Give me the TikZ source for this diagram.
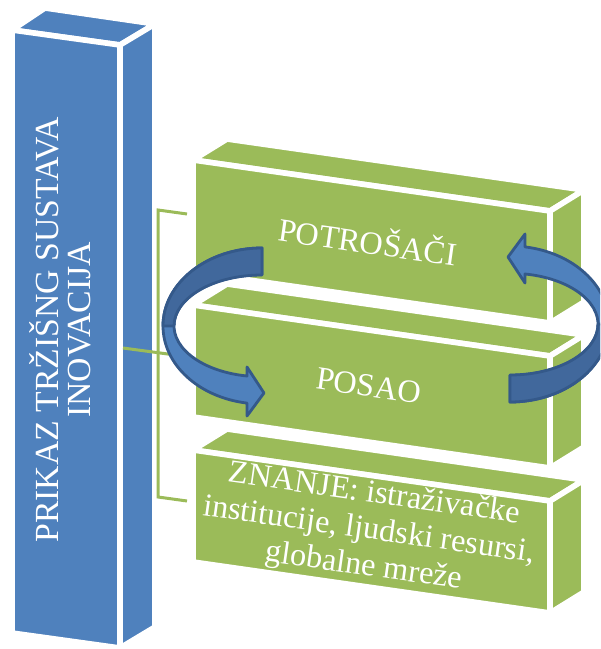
\documentclass[tikz,border=0pt]{standalone}
\usepackage{fontspec}
\setmainfont{Liberation Serif}
\definecolor{colblue}{HTML}{4F81BD}
\definecolor{blockgreen}{HTML}{9BBB59}
\definecolor{arrowdark}{HTML}{41689C}
\definecolor{arrowedge}{HTML}{34598A}

\newcommand{\ringarrow}{%
\filldraw[arrowbody] (262,248) arc[start angle=270,end angle=98.7,x radius=99,y radius=78]
  -- (247,416) -- (264,393) -- (247,367) -- (247,376)
  arc[start angle=99.8,end angle=270,x radius=88,y radius=51] -- cycle;
\filldraw[arrowback] (262,248) arc[start angle=270,end angle=180,x radius=99,y radius=78]
  -- (174,326) arc[start angle=180,end angle=270,x radius=88,y radius=51] -- cycle;
}

\begin{document}
\begin{tikzpicture}[x=0.025cm,y=-0.025cm,
  face/.style={draw=white,line width=0.14cm,line join=miter},
  colface/.style={face,fill=colblue},
  greenface/.style={face,fill=blockgreen},
  bracket/.style={draw=blockgreen,line width=0.075cm},
  arrowbody/.style={fill=colblue,draw=arrowedge,line width=0.07cm,line join=round},
  arrowback/.style={fill=arrowdark,draw=arrowedge,line width=0.07cm,line join=round},
  facetext/.style={text=white,font=\fontsize{23}{26}\selectfont,align=center,inner sep=0pt},
  coltext/.style={text=white,font=\fontsize{24}{22.5}\selectfont,align=center,inner sep=0pt}]
\useasboundingbox (0,0) rectangle (600,649);
\clip (0,0) rectangle (600,649);

\draw[colface] (12,30) -- (45,8) -- (155,24) -- (120,45) -- cycle;
\draw[colface] (12,30) -- (120,45) -- (120,648) -- (12,633) -- cycle;
\draw[colface] (120,45) -- (155,24) -- (155,627) -- (120,648) -- cycle;

\draw[greenface] (193,160) -- (227,139) -- (584,190) -- (550,211) -- cycle;
\draw[greenface] (193,160) -- (550,211) -- (550,323) -- (193,272) -- cycle;
\draw[greenface] (550,211) -- (584,190) -- (584,302) -- (550,323) -- cycle;

\draw[greenface] (193,305) -- (227,284) -- (584,335) -- (550,356) -- cycle;
\draw[greenface] (193,305) -- (550,356) -- (550,468) -- (193,417) -- cycle;
\draw[greenface] (550,356) -- (584,335) -- (584,447) -- (550,468) -- cycle;

\draw[greenface] (193,450) -- (227,429) -- (584,480) -- (550,501) -- cycle;
\draw[greenface] (193,450) -- (550,501) -- (550,613) -- (193,562) -- cycle;
\draw[greenface] (550,501) -- (584,480) -- (584,592) -- (550,613) -- cycle;

\coordinate (bt) at (187,214);
\coordinate (bb) at (187,501);
\coordinate (bm) at (123,348);
\coordinate (bn) at (190,357);
\draw[bracket] (bt) -- (158,210) -- (158,497) -- (bb);
\draw[bracket] (bm) -- (bn);

\node[coltext,rotate=90] (sustav) at (60,330) {PRIKAZ TRŽIŠNG SUSTAVA\\INOVACIJA};
\node[facetext,rotate=-8.1] (potrosaci) at (368,240) {POTROŠAČI};
\node[facetext,rotate=-8.1] (posao) at (369,386) {POSAO};
\node[facetext,rotate=-8.1] (znanje) at (369,531) {ZNANJE: istraživačke\\institucije, ljudski resursi,\\globalne mreže};

\ringarrow
\begin{scope}[rotate around={180:(386,325)}]
\ringarrow
\end{scope}
\end{tikzpicture}
\end{document}
